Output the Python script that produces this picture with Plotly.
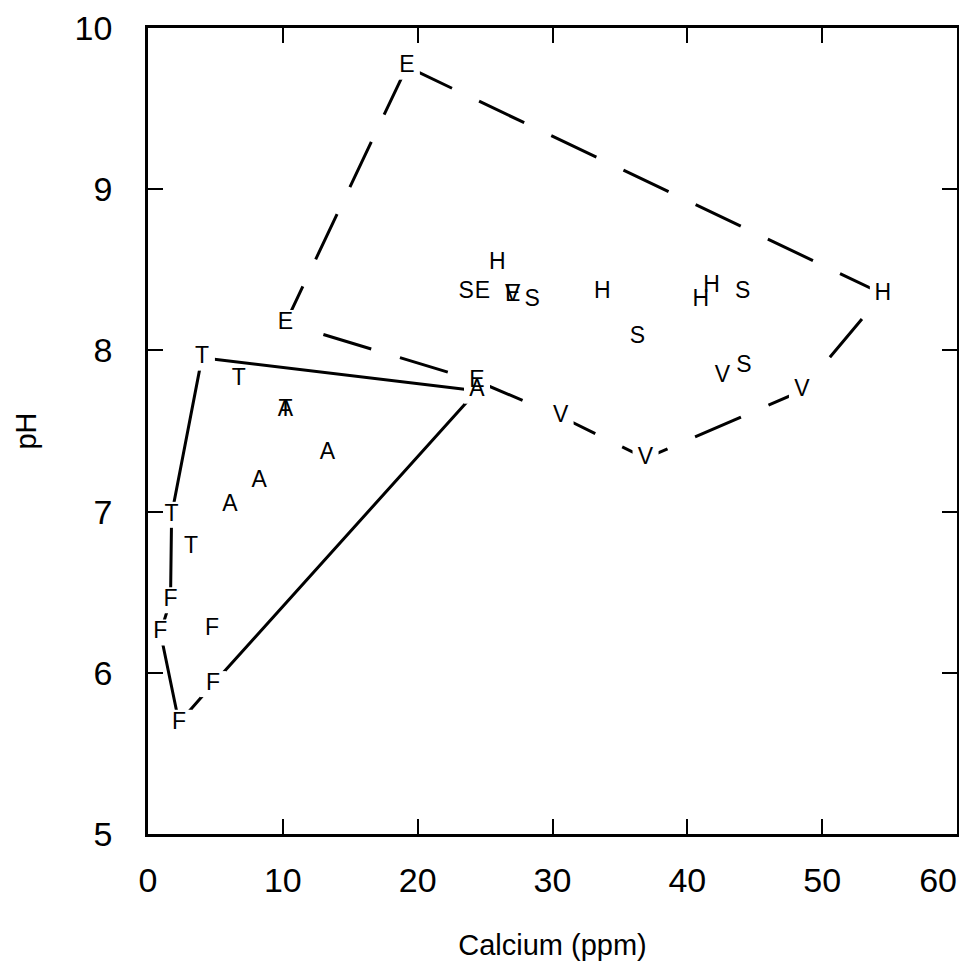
import plotly.graph_objects as go

# ---- data ----
point_labels = [
    "E", "E", "E", "A", "H", "V", "V", "V",            # 0-7 (dashed hull vertices)
    "H", "S", "E", "E", "V", "S", "H", "S", "H", "H", "S", "V", "S",   # 8-20
    "T", "T", "T", "A", "A", "A", "A", "T", "T",       # 21-29
    "F", "F", "F", "F", "F",                            # 30-34
]
calcium_ppm = [
    19.2, 10.2, 24.4, 24.4, 54.5, 48.5, 36.9, 30.6,
    25.9, 23.6, 24.8, 27.05, 27.05, 28.5, 33.7, 36.3, 41.0, 41.8, 44.1, 42.6, 44.2,
    4.0, 6.74, 10.2, 10.2, 13.3, 8.24, 6.07, 1.75, 3.2,
    1.67, 0.92, 4.74, 4.82, 2.3,
]
ph_values = [
    9.76, 8.17, 7.81, 7.75, 8.35, 7.75, 7.33, 7.59,
    8.54, 8.36, 8.36, 8.34, 8.34, 8.31, 8.36, 8.08, 8.31, 8.40, 8.36, 7.84, 7.90,
    7.955, 7.82, 7.63, 7.63, 7.36, 7.19, 7.04, 6.98, 6.78,
    6.45, 6.25, 6.27, 5.93, 5.69,
]
# polygon outlines (indices into the point lists)
dashed_hull = [0, 4, 5, 6, 7, 2, 1, 0]
solid_hull = [21, 3, 33, 34, 31, 30, 28, 21]

x_ticks = [0, 10, 20, 30, 40, 50, 60]
x_tick_labels = ["0", "10", "20", "30", "40", "50", "60\u00a0\u00a0\u00a0\u00a0"]
y_ticks = [5, 6, 7, 8, 9, 10]

FONT = "Liberation Sans"

fig = go.Figure()

fig.add_trace(go.Scatter(
    x=[calcium_ppm[i] for i in dashed_hull],
    y=[ph_values[i] for i in dashed_hull],
    mode="lines",
    line=dict(color="black", width=3, dash="50px,30px"),
    hoverinfo="skip", showlegend=False,
))
fig.add_trace(go.Scatter(
    x=[calcium_ppm[i] for i in solid_hull],
    y=[ph_values[i] for i in solid_hull],
    mode="lines",
    line=dict(color="black", width=3),
    hoverinfo="skip", showlegend=False,
))
# white patches so lines stop short of the letters
fig.add_trace(go.Scatter(
    x=calcium_ppm, y=ph_values, mode="markers",
    marker=dict(symbol="square", size=26, color="white", line=dict(width=0)),
    hoverinfo="skip", showlegend=False,
))
fig.add_trace(go.Scatter(
    x=calcium_ppm, y=ph_values, mode="text",
    text=point_labels,
    textfont=dict(family=FONT, size=23, color="black"),
    textposition="middle center",
    showlegend=False,
))

axis_common = dict(
    showgrid=False, zeroline=False,
    showline=True, linecolor="black", linewidth=2.5,
    mirror="ticks", ticks="inside", ticklen=15, tickwidth=2, tickcolor="black",
    tickfont=dict(family=FONT, size=34, color="black"),
    ticklabeloverflow="allow",
    automargin=False,
)

fig.update_layout(
    width=967, height=973,
    margin=dict(l=140, r=18, t=20, b=147),
    paper_bgcolor="white", plot_bgcolor="white",
    xaxis=dict(
        range=[0, 60], tickvals=x_ticks, ticktext=x_tick_labels,
        ticklabelstandoff=14,
        title=dict(text="Calcium (ppm)", font=dict(family=FONT, size=29, color="black"), standoff=38),
        **axis_common,
    ),
    yaxis=dict(
        range=[5, 10], tickvals=y_ticks, ticktext=[str(v) for v in y_ticks],
        ticklabelstandoff=26,
        title=dict(text="pH", font=dict(family=FONT, size=29, color="black"), standoff=30),
        **axis_common,
    ),
)

fig.write_html("out.html")
